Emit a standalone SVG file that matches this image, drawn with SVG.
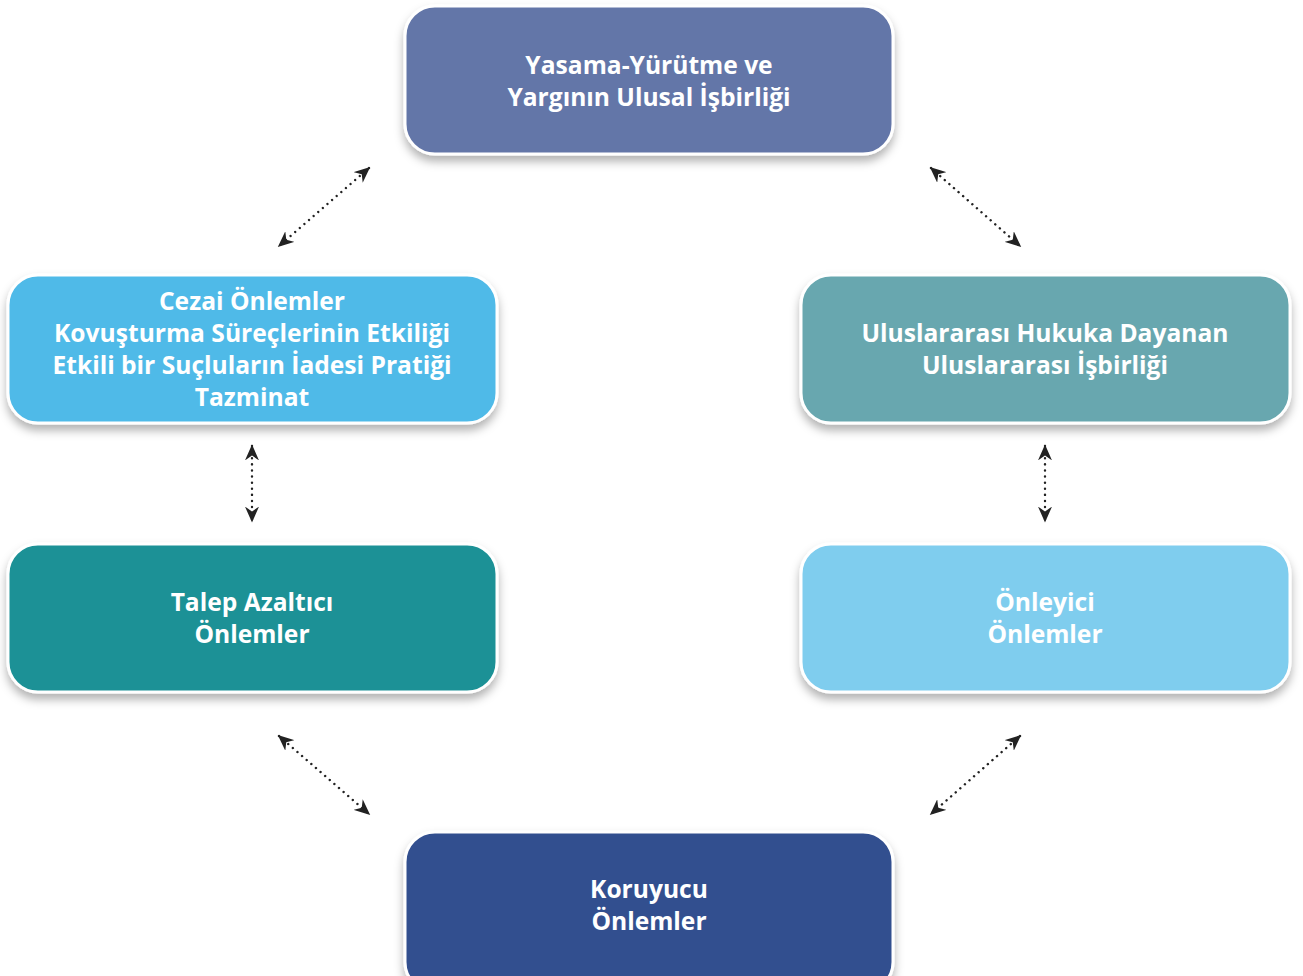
<svg xmlns="http://www.w3.org/2000/svg" width="1303" height="976" viewBox="0 0 1303 976">
<style>
.box{stroke:#fff;stroke-width:3;filter:url(#sh)}
.t{font-family:"Open Sans","Noto Sans",sans-serif;font-weight:700;font-size:24.6px;fill:#fff;text-anchor:middle}
.c{stroke:#222;stroke-width:2.4;stroke-dasharray:0.1 6;stroke-linecap:round;fill:none;marker-start:url(#ah);marker-end:url(#ah)}
</style>
<defs>
<filter id="sh" x="-10%" y="-20%" width="120%" height="150%">
<feDropShadow dx="0" dy="6" stdDeviation="5" flood-color="#000" flood-opacity="0.3"/>
</filter>
<marker id="ah" viewBox="0 0 10 10" refX="9" refY="5" markerWidth="16" markerHeight="14" markerUnits="userSpaceOnUse" orient="auto-start-reverse" preserveAspectRatio="none">
<path d="M0,0 L10,5 L0,10 L3,5 Z" fill="#222"/>
</marker>
</defs>
<rect width="1303" height="976" fill="#fff"/>
<g id="connectors">
<line class="c" x1="369" y1="168" x2="279" y2="246"/>
<line class="c" x1="931" y1="168" x2="1020" y2="246"/>
<line class="c" x1="252" y1="446" x2="252" y2="521"/>
<line class="c" x1="1045" y1="446" x2="1045" y2="521"/>
<line class="c" x1="279" y1="736" x2="369" y2="814"/>
<line class="c" x1="1020" y1="736" x2="931" y2="814"/>
</g>
<g id="n-top">
<rect class="box" x="405" y="6" width="488" height="148" rx="30" fill="#6476A8"/>
<text class="t" x="649" y="74">Yasama-Yürütme ve</text>
<text class="t" x="649" y="106">Yargının Ulusal İşbirliği</text>
</g>
<g id="n-cezai">
<rect class="box" x="8" y="275" width="489" height="148" rx="30" fill="#4FBAE8"/>
<text class="t" x="252" y="310">Cezai Önlemler</text>
<text class="t" x="252" y="342">Kovuşturma Süreçlerinin Etkiliği</text>
<text class="t" x="252" y="374">Etkili bir Suçluların İadesi Pratiği</text>
<text class="t" x="252" y="406">Tazminat</text>
</g>
<g id="n-ulus">
<rect class="box" x="801" y="275" width="489" height="148" rx="30" fill="#67A7AF"/>
<text class="t" x="1045" y="342">Uluslararası Hukuka Dayanan</text>
<text class="t" x="1045" y="374">Uluslararası İşbirliği</text>
</g>
<g id="n-talep">
<rect class="box" x="8" y="544" width="489" height="148" rx="30" fill="#1A9196"/>
<text class="t" x="252" y="611">Talep Azaltıcı</text>
<text class="t" x="252" y="643">Önlemler</text>
</g>
<g id="n-onleyici">
<rect class="box" x="801" y="544" width="489" height="148" rx="30" fill="#7FCDEE"/>
<text class="t" x="1045" y="611">Önleyici</text>
<text class="t" x="1045" y="643">Önlemler</text>
</g>
<g id="n-koruyucu">
<rect class="box" x="405" y="832" width="488" height="160" rx="30" fill="#324F8F"/>
<text class="t" x="649" y="898">Koruyucu</text>
<text class="t" x="649" y="930">Önlemler</text>
</g>
</svg>
